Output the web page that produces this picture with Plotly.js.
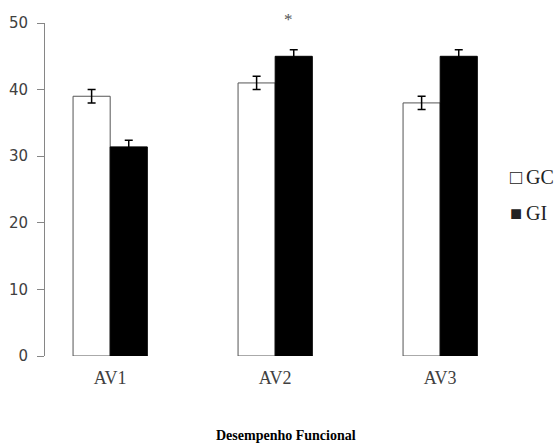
<!DOCTYPE html>
<html>
<head>
<meta charset="utf-8">
<script src="https://cdn.plot.ly/plotly-3.0.1.min.js"></script>
<style>html,body{margin:0;padding:0;background:#fff;}#chart{width:560px;height:443px;}</style>
</head>
<body>
<div id="chart"></div>
<script>
var categories = ['AV1', 'AV2', 'AV3'];
var gcValues = [39, 41, 38];
var gcErrors = [1, 1, 1];
var giValues = [31.4, 45, 45];
var giErrors = [1, 1, 1];
var seriesNames = ['GC', 'GI'];
var legendSymbols = ['\u25A1', '\u25A0'];
var yTicks = [0, 10, 20, 30, 40, 50];
var xTitle = 'Desempenho Funcional';
var marker = '*';

var SERIF = 'Liberation Serif';
var plotW = 515;
var dom = 462 / plotW;
function px(x) { return (x - 45) / plotW; }
function py(y) { return (356 - y) / 333; }

var traces = [
  {
    type: 'bar', name: seriesNames[0], x: categories, y: gcValues,
    marker: {color: '#ffffff', line: {color: '#555555', width: 1}},
    error_y: {type: 'data', array: gcErrors, visible: true, color: '#000000', thickness: 1.5, width: 4},
    showlegend: false
  },
  {
    type: 'bar', name: seriesNames[1], x: categories, y: giValues,
    marker: {color: '#000000', line: {color: '#000000', width: 1}},
    error_y: {type: 'data', array: giErrors, visible: true, color: '#000000', thickness: 1.5, width: 4},
    showlegend: false
  }
];

var annotations = [
  {x: px(288), y: py(19), xref: 'paper', yref: 'paper', yanchor: 'middle', text: marker, showarrow: false,
   font: {family: SERIF, size: 17, color: '#555555'}},
  {x: px(286), y: py(435), xref: 'paper', yref: 'paper', yanchor: 'middle', text: '<b>' + xTitle + '</b>', showarrow: false,
   font: {family: SERIF, size: 14, color: '#000000'}}
];
seriesNames.forEach(function (n, i) {
  annotations.push({
    x: px(508), y: py(177 + i * 36), xref: 'paper', yref: 'paper', xanchor: 'left', yanchor: 'middle',
    text: legendSymbols[i] + '\u2009' + n, showarrow: false,
    font: {family: SERIF, size: 20, color: '#222222'}
  });
});

var layout = {
  width: 560, height: 443,
  margin: {l: 45, r: 0, t: 23, b: 87},
  paper_bgcolor: '#ffffff', plot_bgcolor: '#ffffff',
  barmode: 'group', bargap: 0.55, bargroupgap: 0,
  showlegend: false,
  xaxis: {
    type: 'category', range: [-0.395, 2.405], domain: [0, dom],
    showline: false, ticks: '', showgrid: false, zeroline: false,
    tickfont: {family: SERIF, size: 18, color: '#404040'},
    ticklabelstandoff: 9
  },
  yaxis: {
    range: [0, 50], tickvals: yTicks, showgrid: false, zeroline: false,
    showline: true, linecolor: '#868686', linewidth: 1,
    ticks: 'outside', ticklen: 7, tickcolor: '#868686',
    tickfont: {family: 'DejaVu Sans', size: 15, color: '#404040'},
    ticklabelstandoff: 6
  },
  annotations: annotations
};

Plotly.newPlot('chart', traces, layout, {displayModeBar: false, staticPlot: true});
</script>
</body>
</html>
